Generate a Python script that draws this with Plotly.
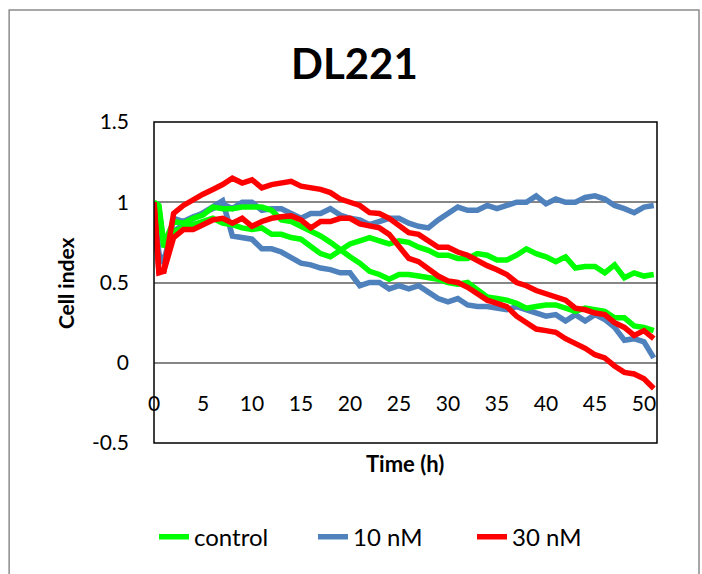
import plotly.graph_objects as go

# Sampling times (h)
time_h = [0, 0.5] + list(range(1, 52))

# Cell index, two wells per condition
control_a = [1.00, 0.97, 0.72, 0.82, 0.84, 0.86, 0.88, 0.90, 0.87, 0.86, 0.84, 0.83, 0.84, 0.80, 0.80, 0.78,
             0.77, 0.73, 0.68, 0.66, 0.70, 0.74, 0.76, 0.78, 0.76, 0.74, 0.76, 0.75, 0.72, 0.70, 0.67, 0.67,
             0.65, 0.65, 0.68, 0.67, 0.64, 0.64, 0.67, 0.71, 0.68, 0.66, 0.63, 0.66, 0.59, 0.60, 0.60, 0.56,
             0.61, 0.53, 0.56, 0.54, 0.55]
control_b = [1.00, 0.98, 0.74, 0.88, 0.87, 0.90, 0.92, 0.97, 0.96, 0.96, 0.97, 0.97, 0.97, 0.95, 0.89, 0.88,
             0.85, 0.82, 0.79, 0.75, 0.70, 0.66, 0.62, 0.57, 0.55, 0.52, 0.55, 0.55, 0.54, 0.53, 0.52, 0.50,
             0.49, 0.50, 0.45, 0.41, 0.40, 0.39, 0.37, 0.34, 0.35, 0.36, 0.36, 0.34, 0.32, 0.34, 0.33, 0.32,
             0.28, 0.28, 0.23, 0.22, 0.20]
nm10_a = [1.00, 0.68, 0.62, 0.90, 0.88, 0.91, 0.93, 0.96, 0.99, 0.96, 1.00, 1.00, 0.95, 0.96, 0.96, 0.93,
          0.90, 0.93, 0.93, 0.96, 0.92, 0.90, 0.89, 0.86, 0.88, 0.90, 0.90, 0.87, 0.85, 0.84, 0.89, 0.93,
          0.97, 0.95, 0.95, 0.98, 0.96, 0.98, 1.00, 1.00, 1.04, 0.99, 1.02, 1.00, 1.00, 1.03, 1.04, 1.02,
          0.98, 0.96, 0.935, 0.97, 0.98]
nm10_b = [1.00, 0.66, 0.64, 0.82, 0.86, 0.90, 0.93, 0.97, 1.01, 0.79, 0.78, 0.77, 0.71, 0.71, 0.69, 0.65,
          0.62, 0.61, 0.59, 0.58, 0.56, 0.56, 0.48, 0.50, 0.50, 0.46, 0.48, 0.46, 0.48, 0.44, 0.40, 0.38,
          0.40, 0.36, 0.35, 0.35, 0.34, 0.33, 0.35, 0.33, 0.31, 0.29, 0.30, 0.26, 0.30, 0.26, 0.30, 0.27,
          0.22, 0.14, 0.15, 0.13, 0.03]
nm30_a = [1.00, 0.57, 0.57, 0.93, 0.98, 1.02, 1.05, 1.08, 1.11, 1.15, 1.12, 1.14, 1.09, 1.11, 1.12, 1.13,
          1.10, 1.09, 1.08, 1.06, 1.02, 1.00, 0.98, 0.935, 0.93, 0.90, 0.86, 0.81, 0.80, 0.76, 0.72, 0.72,
          0.69, 0.67, 0.635, 0.605, 0.58, 0.55, 0.50, 0.48, 0.45, 0.43, 0.41, 0.39, 0.34, 0.33, 0.31, 0.30,
          0.25, 0.22, 0.17, 0.20, 0.15]
nm30_b = [1.00, 0.56, 0.57, 0.78, 0.83, 0.83, 0.86, 0.89, 0.90, 0.87, 0.90, 0.85, 0.88, 0.90, 0.91, 0.915,
          0.89, 0.84, 0.88, 0.88, 0.90, 0.90, 0.865, 0.85, 0.84, 0.80, 0.73, 0.65, 0.63, 0.58, 0.54, 0.51,
          0.50, 0.47, 0.43, 0.39, 0.37, 0.35, 0.29, 0.25, 0.21, 0.20, 0.19, 0.15, 0.12, 0.09, 0.05, 0.03,
          -0.02, -0.06, -0.07, -0.10, -0.16]

x_ticks = [0, 5, 10, 15, 20, 25, 30, 35, 40, 45, 50]
y_ticks = [-0.5, 0, 0.5, 1, 1.5]
y_ticktext = ["-0.5", "0", "0.5", "1", "1.5"]

GREEN = "#00FF00"
BLUE = "#4F81BD"
RED = "#FF0000"
FONT = "Lato"

series = [
    ("10 nM", nm10_a, BLUE, True, 2),
    ("10 nM", nm10_b, BLUE, False, 2),
    ("control", control_a, GREEN, True, 1),
    ("control", control_b, GREEN, False, 1),
    ("30 nM", nm30_a, RED, True, 3),
    ("30 nM", nm30_b, RED, False, 3),
]

fig = go.Figure()
for name, vals, color, show, rank in series:
    fig.add_trace(go.Scatter(
        x=time_h, y=vals, mode="lines", name=name,
        line=dict(color=color, width=5.5),
        legendgroup=name, showlegend=show, legendrank=rank,
    ))

fig.update_layout(
    width=702, height=574, autosize=False,
    margin=dict(l=154, r=45, t=122, b=131),
    paper_bgcolor="white", plot_bgcolor="white",
    font=dict(family=FONT, size=21, color="black"),
    xaxis=dict(
        range=[0, 51.33], tickvals=x_ticks, showgrid=False, zeroline=False,
        showline=False, ticks="", anchor="free", position=0.25,
        ticklabelstandoff=26, tickfont=dict(size=21),
    ),
    yaxis=dict(
        range=[-0.5, 1.5], tickvals=y_ticks, ticktext=y_ticktext,
        showgrid=True, gridcolor="#868686", gridwidth=1.5, zeroline=False,
        showline=False, ticks="", ticklabelstandoff=24, tickfont=dict(size=21),
    ),
    legend=dict(
        orientation="h", x=0.0, xanchor="left", y=-0.293, yanchor="middle",
        font=dict(size=24), traceorder="normal", itemwidth=30, entrywidth=114,
    ),
    showlegend=True,
)

# Plot-area frame and outer chart border
fig.add_shape(type="rect", xref="paper", yref="paper", x0=0, y0=0, x1=1, y1=1,
              line=dict(color="black", width=1.5), layer="above")
fig.add_shape(type="rect", xref="paper", yref="paper", x0=-0.288, y0=-0.45, x1=1.0835, y1=1.349,
              line=dict(color="#8C8C8C", width=1.5), layer="above")

fig.add_annotation(text="<b>DL221</b>", xref="paper", yref="paper", x=0.3996, y=1.1838,
                   showarrow=False, font=dict(size=42, family=FONT), xanchor="center", yanchor="middle")
fig.add_annotation(text="<b>Cell index</b>", xref="paper", yref="paper", x=-0.177, y=0.498,
                   showarrow=False, textangle=-90, font=dict(size=21, family=FONT),
                   xanchor="center", yanchor="middle")
fig.add_annotation(text="<b>Time (h)</b>", xref="paper", yref="paper", x=0.499, y=-0.0654,
                   showarrow=False, font=dict(size=22, family=FONT), xanchor="center", yanchor="middle")

fig.write_html("out.html")
